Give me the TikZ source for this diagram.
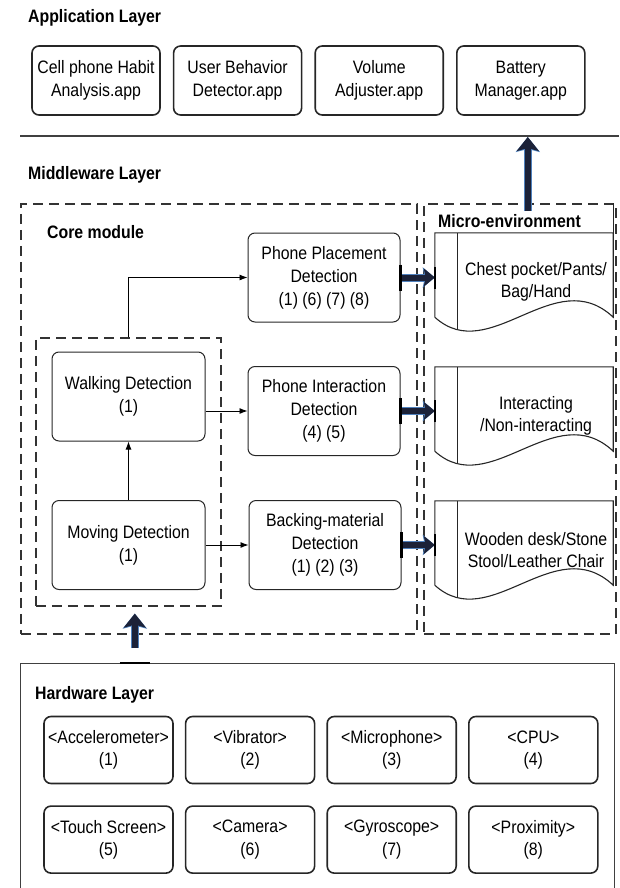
\documentclass[tikz,border=0pt]{standalone}
\usepackage{fontspec}
\setmainfont{Liberation Sans}[FakeStretch=0.88]
\usetikzlibrary{arrows.meta, positioning, calc}
\definecolor{arrownavy}{RGB}{28,34,56}
\definecolor{arrowglow}{RGB}{79,129,189}
\tikzstyle{appbox} = [rectangle, rounded corners=7pt, draw=black!85, line width=1.6pt, align=center, minimum width=128pt, minimum height=69pt, inner sep=0pt, font=\fontsize{18}{22.5}\selectfont]
\tikzstyle{hwbox} = [appbox, minimum width=129pt, minimum height=67pt]
\tikzstyle{detbox} = [rectangle, rounded corners=7pt, draw=black!85, line width=1pt, align=center, minimum width=152pt, minimum height=89pt, inner sep=0pt, font=\fontsize{18}{23}\selectfont]
\tikzstyle{dashbox} = [rectangle, draw=black!80, line width=1.6pt, dash pattern=on 10pt off 6pt, inner sep=0pt, anchor=north west]
\tikzstyle{envbox} = [rectangle, minimum width=178pt, minimum height=84pt, inner sep=0pt]
\tikzstyle{envtext} = [align=center, inner sep=0pt, font=\fontsize{18}{22.5}\selectfont]
\tikzstyle{layertitle} = [anchor=west, inner sep=0pt, font=\bfseries\fontsize{18}{22}\selectfont]
\tikzstyle{flow} = [line width=0.9pt, black, -{Latex[length=8pt,width=6pt]}]
\tikzstyle{fatup} = [line width=5.5pt, arrownavy, -{Stealth[length=14pt,width=22pt,inset=3pt]}, preaction={draw=arrowglow, line width=7.5pt, -{Stealth[length=15pt,width=24pt,inset=3pt]}}]
\tikzstyle{fatright} = [line width=6pt, arrownavy, -{Stealth[length=11pt,width=18pt,inset=2pt]}, preaction={draw=arrowglow, line width=8pt, -{Stealth[length=12pt,width=20pt,inset=2pt]}}]
\tikzstyle{glue} = [line width=2.5pt, black]
\tikzstyle{envline} = [line width=1.1pt, black!85]

\begin{document}
\begin{tikzpicture}[x=1pt, y=-1pt]
	\useasboundingbox (0,0) rectangle (619,888);

	% Application layer
	\node (app_title) [layertitle] at (28,18) {Application Layer};
	\node (app_habit) [appbox] at (96,80.5) {Cell phone Habit\\Analysis.app};
	\node (app_user) [appbox, right=12pt of app_habit] {User Behavior\\Detector.app};
	\node (app_volume) [appbox, right=12pt of app_user] {Volume\\Adjuster.app};
	\node (app_battery) [appbox, right=12pt of app_volume] {Battery\\Manager.app};

	\coordinate (div_left) at (20,136);
	\coordinate (div_right) at (619,136);
	\draw[line width=1.2pt, black!75] (div_left) -- (div_right);

	% Middleware layer
	\node (mid_title) [layertitle] at (28,175) {Middleware Layer};
	\node (core) [dashbox, minimum width=396pt, minimum height=430pt] at (20,203) {};
	\node (inner) [dashbox, minimum width=185pt, minimum height=268pt] at (35,337) {};
	\node (micro) [dashbox, minimum width=192pt, minimum height=430pt] at (423,203) {};
	\node (core_title) [layertitle] at (47,232) {Core module};
	\node (micro_title) [layertitle] at (438,221) {Micro-environment};

	% Detection blocks
	\node (walk) [detbox, minimum width=153pt] at (128.5,396.5) {Walking Detection\\(1)};
	\node (move) [detbox, minimum width=153pt] at (128.5,545) {Moving Detection\\(1)};
	\node (det_place) [detbox] at (324,277.5) {Phone Placement\\Detection\\(1) (6) (7) (8)};
	\node (det_inter) [detbox] at (324,411) {Phone Interaction\\Detection\\(4) (5)};
	\node (det_back) [detbox] at (325,545) {Backing-material\\Detection\\(1) (2) (3)};

	% Micro-environment documents
	\node (env_place) [envbox] at (524,275) {};
	\node (env_inter) [envbox] at (524,409) {};
	\node (env_back) [envbox] at (524,543) {};
	\node (env_place_txt) [envtext] at ([xshift=12pt,yshift=-7pt]env_place.center) {Chest pocket/Pants/\\Bag/Hand};
	\node (env_inter_txt) [envtext] at ([xshift=12pt,yshift=-7pt]env_inter.center) {Interacting\\/Non-interacting};
	\node (env_back_txt) [envtext] at ([xshift=12pt,yshift=-7pt]env_back.center) {Wooden desk/Stone\\Stool/Leather Chair};

	\draw[envline] (env_place.south west) -- (env_place.north west) -- (env_place.north east) -- (env_place.south east) .. controls ($(env_place.south west)+(120,-55)$) and ($(env_place.south west)+(55,50)$) .. (env_place.south west);
	\draw[envline] ($(env_place.north west)+(23,0)$) -- ($(env_place.south west)+(23,12)$);
	\draw[envline] (env_place.north east) -- (env_place.north east |- micro.north);
	\draw[envline] (env_inter.south west) -- (env_inter.north west) -- (env_inter.north east) -- (env_inter.south east) .. controls ($(env_inter.south west)+(120,-55)$) and ($(env_inter.south west)+(55,50)$) .. (env_inter.south west);
	\draw[envline] ($(env_inter.north west)+(23,0)$) -- ($(env_inter.south west)+(23,12)$);
	\draw[envline] (env_back.south west) -- (env_back.north west) -- (env_back.north east) -- (env_back.south east) .. controls ($(env_back.south west)+(120,-55)$) and ($(env_back.south west)+(55,50)$) .. (env_back.south west);
	\draw[envline] ($(env_back.north west)+(23,0)$) -- ($(env_back.south west)+(23,12)$);

	% Arrows
	\draw[flow] (walk.north |- inner.north) |- (det_place.west);
	\draw[flow] (walk.east |- det_inter.west) -- (det_inter.west);
	\draw[flow] (move.north) -- (walk.south);
	\draw[flow] (move.east) -- (det_back.west);

	\draw[fatright] (det_place.east) -- (env_place.west |- det_place.east);
	\draw[fatright] (det_inter.east) -- (env_inter.west |- det_inter.east);
	\draw[fatright] (det_back.east) -- (env_back.west |- det_back.east);

	\draw[glue] ([yshift=13pt]det_place.east) -- ([yshift=-13pt]det_place.east);
	\draw[glue] ([yshift=13pt]det_inter.east) -- ([yshift=-13pt]det_inter.east);
	\draw[glue] ([yshift=13pt]det_back.east) -- ([yshift=-13pt]det_back.east);
	\draw[glue] ([yshift=11pt]env_place.west |- det_place.east) -- ([yshift=-11pt]env_place.west |- det_place.east);
	\draw[glue] ([yshift=11pt]env_inter.west |- det_inter.east) -- ([yshift=-11pt]env_inter.west |- det_inter.east);
	\draw[glue] ([yshift=11pt]env_back.west |- det_back.east) -- ([yshift=-11pt]env_back.west |- det_back.east);

	\draw[fatup] ([xshift=8pt,yshift=-8pt]micro.north) -- ([xshift=8pt,yshift=-1pt]micro.north |- div_left);

	% Hardware layer
	\node (hw) [rectangle, draw=black!75, line width=1.4pt, minimum width=594pt, minimum height=240pt, anchor=north west] at (20,663) {};
	\node (hw_title) [layertitle] at (35,695) {Hardware Layer};
	\node (hw_accel) [hwbox] at (108.5,750) {<Accelerometer>\\(1)};
	\node (hw_vib) [hwbox, right=11pt of hw_accel] {<Vibrator>\\(2)};
	\node (hw_mic) [hwbox, right=11pt of hw_vib] {<Microphone>\\(3)};
	\node (hw_cpu) [hwbox, right=11pt of hw_mic] {<CPU>\\(4)};
	\node (hw_touch) [hwbox, below=21pt of hw_accel] {<Touch Screen>\\(5)};
	\node (hw_cam) [hwbox, right=11pt of hw_touch] {<Camera>\\(6)};
	\node (hw_gyro) [hwbox, right=11pt of hw_cam] {<Gyroscope>\\(7)};
	\node (hw_prox) [hwbox, right=11pt of hw_gyro] {<Proximity>\\(8)};

	\draw[fatup] ([xshift=6.5pt,yshift=15pt]inner.south |- hw.north) -- ([xshift=6.5pt,yshift=-7pt]inner.south);
	\draw[glue] ([xshift=-8.5pt]inner.south |- hw.north) -- ([xshift=21.5pt]inner.south |- hw.north);

\end{tikzpicture}
\end{document}
